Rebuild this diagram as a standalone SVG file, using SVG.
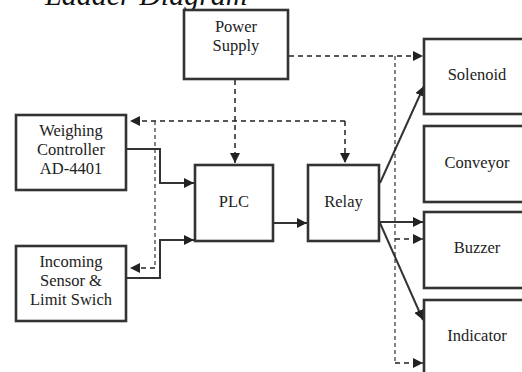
<svg xmlns="http://www.w3.org/2000/svg" width="522" height="372" viewBox="0 0 522 372">
<style>
.box{fill:#fff;stroke:#333;stroke-width:2.6}
.t{font-family:"Liberation Serif","Times New Roman",serif;font-size:16.5px;fill:#222;text-anchor:middle}
.solid{fill:none;stroke:#333;stroke-width:2}
.dash{fill:none;stroke:#222;stroke-width:1.5;stroke-dasharray:5,4}
.thin{fill:none;stroke:#222;stroke-width:1.1;stroke-dasharray:4,3}
</style>
<defs>
<marker id="ah" viewBox="0 0 10 10" refX="10" refY="5" markerWidth="10" markerHeight="10" markerUnits="userSpaceOnUse" orient="auto">
<path d="M0,0 L10,5 L0,10 z" fill="#222"/>
</marker>
</defs>
<text x="45" y="5" style="font-family:'Liberation Serif','Times New Roman',serif;font-size:30px;font-style:italic;fill:#111">Ladder Diagram</text>
<g id="connectors">
<path class="dash" d="M235,80 V163" marker-end="url(#ah)"/>
<path class="dash" d="M345,121 H130" marker-end="url(#ah)"/>
<path class="dash" d="M345,121 V163" marker-end="url(#ah)"/>
<path class="thin" d="M155,121 V268"/>
<path class="dash" d="M155,268 H130" marker-end="url(#ah)"/>
<path class="solid" d="M126,149 H160 V183 H194" marker-end="url(#ah)"/>
<path class="solid" d="M126,278 H160 V240 H194" marker-end="url(#ah)"/>
<path class="solid" d="M273,223 H307" marker-end="url(#ah)"/>
<path class="solid" d="M380,183 L424,86" marker-end="url(#ah)"/>
<path class="solid" d="M380,222 H423" marker-end="url(#ah)"/>
<path class="solid" d="M380,223 L423,320" marker-end="url(#ah)"/>
<path class="dash" d="M289,56 H423" marker-end="url(#ah)"/>
<path class="thin" d="M395,56 V363"/>
<path class="dash" d="M395,239 H423" marker-end="url(#ah)"/>
<path class="dash" d="M395,363 H423" marker-end="url(#ah)"/>
</g>
<g id="power-supply"><rect class="box" x="184" y="10" width="104" height="69"/><text class="t" x="236" y="32">Power</text><text class="t" x="236" y="51">Supply</text></g>
<g id="weighing-controller"><rect class="box" x="16" y="115" width="110" height="75"/><text class="t" x="71" y="136">Weighing</text><text class="t" x="71" y="155">Controller</text><text class="t" x="71" y="174">AD-4401</text></g>
<g id="incoming-sensor"><rect class="box" x="16" y="246" width="110" height="75"/><text class="t" x="71" y="267">Incoming</text><text class="t" x="71" y="286">Sensor &amp;</text><text class="t" x="71" y="305">Limit Swich</text></g>
<g id="plc"><rect class="box" x="195" y="165" width="78" height="76"/><text class="t" x="234" y="207">PLC</text></g>
<g id="relay"><rect class="box" x="308" y="165" width="71" height="76"/><text class="t" x="343.5" y="207">Relay</text></g>
<g id="solenoid"><rect class="box" x="424" y="39" width="110" height="75"/><text class="t" x="477" y="80">Solenoid</text></g>
<g id="conveyor"><rect class="box" x="424" y="126" width="110" height="76"/><text class="t" x="477" y="168">Conveyor</text></g>
<g id="buzzer"><rect class="box" x="424" y="212" width="110" height="76"/><text class="t" x="477" y="253">Buzzer</text></g>
<g id="indicator"><rect class="box" x="424" y="300" width="110" height="80"/><text class="t" x="477" y="341">Indicator</text></g>
</svg>
